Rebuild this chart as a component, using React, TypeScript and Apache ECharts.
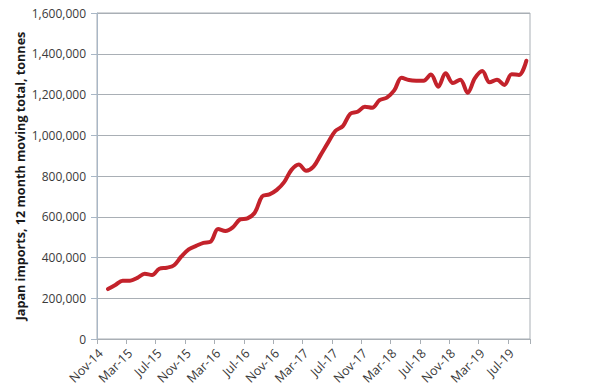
import React, { useEffect, useRef } from "react";
import * as echarts from "echarts";

const months: string[] = [
  "Nov-14", "Dec-14",
  "Jan-15", "Feb-15", "Mar-15", "Apr-15", "May-15", "Jun-15", "Jul-15", "Aug-15", "Sep-15", "Oct-15", "Nov-15", "Dec-15",
  "Jan-16", "Feb-16", "Mar-16", "Apr-16", "May-16", "Jun-16", "Jul-16", "Aug-16", "Sep-16", "Oct-16", "Nov-16", "Dec-16",
  "Jan-17", "Feb-17", "Mar-17", "Apr-17", "May-17", "Jun-17", "Jul-17", "Aug-17", "Sep-17", "Oct-17", "Nov-17", "Dec-17",
  "Jan-18", "Feb-18", "Mar-18", "Apr-18", "May-18", "Jun-18", "Jul-18", "Aug-18", "Sep-18", "Oct-18", "Nov-18", "Dec-18",
  "Jan-19", "Feb-19", "Mar-19", "Apr-19", "May-19", "Jun-19", "Jul-19", "Aug-19", "Sep-19",
];

const importsTonnes: (number | null)[] = [
  null, 245000,
  265000, 286000, 286000, 300000, 320000, 314000, 345000, 350000, 362000, 405000, 440000, 457000,
  472000, 478000, 540000, 530000, 548000, 587000, 592000, 620000, 700000, 710000, 732000, 770000,
  830000, 856000, 826000, 846000, 905000, 965000, 1022000, 1045000, 1105000, 1115000, 1140000, 1135000,
  1172000, 1185000, 1220000, 1282000, 1271000, 1268000, 1268000, 1298000, 1238000, 1304000, 1256000, 1273000,
  1209000, 1280000, 1315000, 1260000, 1272000, 1247000, 1300000, 1296000, 1366000,
];

const yAxisTitle = "Japan imports, 12 month moving total, tonnes";

export default function App() {
  const ref = useRef<HTMLDivElement>(null);
  useEffect(() => {
    if (!ref.current) return;
    const chart = echarts.init(ref.current, null, { renderer: "svg" });
    const font = "'Open Sans', sans-serif";
    chart.setOption({
      animation: false,
      backgroundColor: "#ffffff",
      grid: {
        left: 97,
        right: 70,
        top: 13,
        bottom: 53,
        show: true,
        borderColor: "#A9AFB5",
        borderWidth: 1,
      },
      xAxis: {
        type: "category",
        data: months,
        boundaryGap: true,
        axisLine: { lineStyle: { color: "#A9AFB5", width: 1 } },
        axisTick: {
          show: true,
          interval: 3,
          alignWithLabel: false,
          length: 5,
          lineStyle: { color: "#A9AFB5" },
        },
        axisLabel: {
          interval: 3,
          rotate: 45,
          margin: 12,
          fontFamily: font,
          fontSize: 12.5,
          color: "#3A3A3A",
        },
        splitLine: { show: false },
      },
      yAxis: {
        type: "value",
        min: 0,
        max: 1600000,
        interval: 200000,
        name: yAxisTitle,
        nameLocation: "middle",
        nameGap: 77,
        nameMoveOverlap: false,
        nameTextStyle: {
          fontFamily: font,
          fontSize: 12.6,
          fontWeight: "bold",
          color: "#1A1A1A",
          verticalAlign: "middle",
        },
        axisLine: { show: true, lineStyle: { color: "#A9B7C6", width: 1 } },
        axisTick: { show: true, length: 6, lineStyle: { color: "#A9B7C6" } },
        axisLabel: {
          margin: 11,
          fontFamily: font,
          fontSize: 12,
          color: "#3A3A3A",
          formatter: (v: number) => v.toLocaleString("en-US"),
        },
        splitLine: { lineStyle: { color: "#A9AFB5", width: 1 } },
      },
      series: [
        {
          type: "line",
          data: importsTonnes,
          smooth: 0.35,
          showSymbol: false,
          symbol: "none",
          connectNulls: false,
          lineStyle: { color: "#C3222B", width: 4, cap: "round", join: "round" },
          itemStyle: { color: "#C3222B" },
        },
      ],
    });
    return () => chart.dispose();
  }, []);
  return <div ref={ref} style={{ width: 600, height: 392, margin: -8 }} />;
}
